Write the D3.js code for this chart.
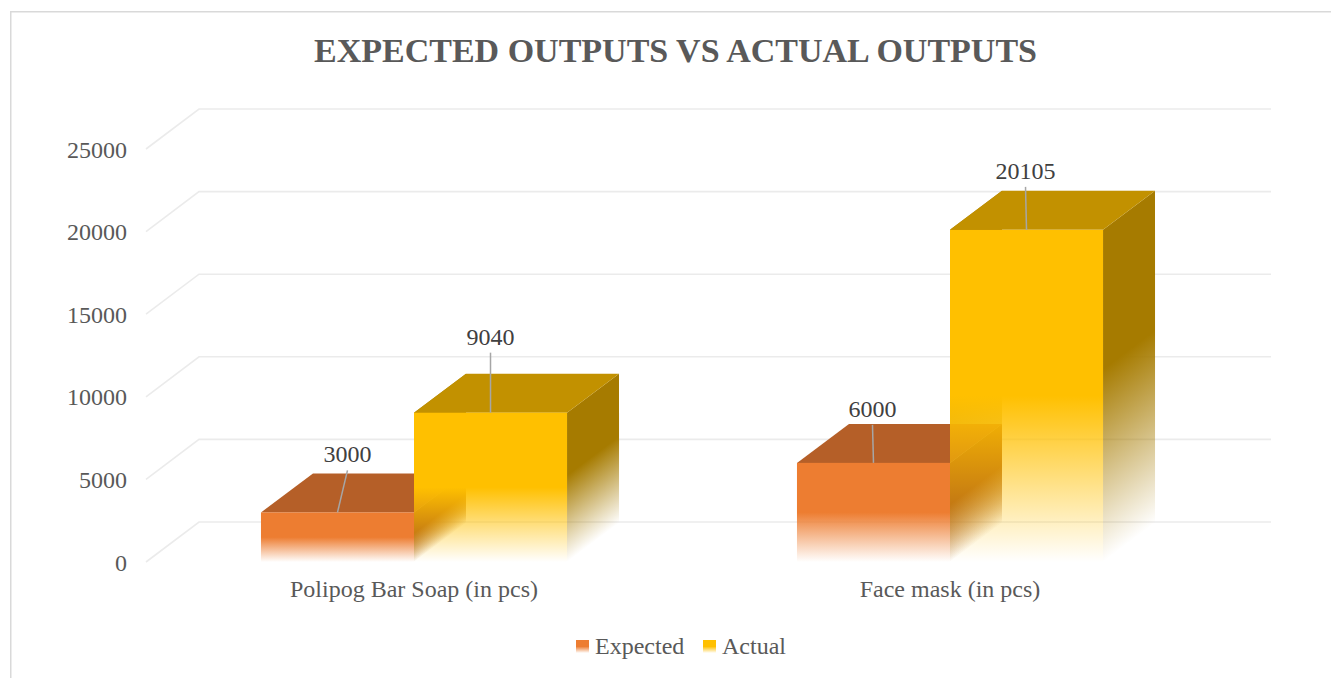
<!DOCTYPE html>
<html>
<head>
<meta charset="utf-8">
<script src="https://cdn.jsdelivr.net/npm/d3@7"></script>
<style>
  html, body { margin: 0; padding: 0; background: #ffffff; }
  svg { display: block; }
  text { font-family: "Liberation Serif", "Times New Roman", serif; }
</style>
</head>
<body>
<svg id="chart" width="1331" height="678"></svg>
<script>
// ---- data ----
const categories = ["Polipog Bar Soap (in pcs)", "Face mask (in pcs)"];
const seriesNames = ["Expected", "Actual"];
const expectedValues = [3000, 6000];
const actualValues = [9040, 20105];
const yTicks = [0, 5000, 10000, 15000, 20000, 25000];
const chartTitle = "EXPECTED OUTPUTS VS ACTUAL OUTPUTS";

// label nudges (px) from the top-centre of each front face
const expectedLabelShift = [[10, -50], [-1, -46]];
const actualLabelShift = [[0, -68], [-1, -51]];

// ---- styling ----
const palette = {
  Expected: { front: "#ED7D31", top: "#B55F28", side: "#A5541D" },
  Actual:   { front: "#FFC000", top: "#C29100", side: "#A67B00" }
};
const textColor = "#595959";
const gridColor = "#ebebeb";

// ---- geometry ----
const frontLeft = 146, frontRight = 1218;
const wallShift = { dx: 53, dy: -40 };   // back wall relative to front plane
const barShift = { dx: 52, dy: -39 };    // bar depth

const svg = d3.select("#chart");
const defs = svg.append("defs");

const y = d3.scaleLinear().domain([0, 25000]).range([562, 149]);
const x0 = d3.scaleBand().domain(categories).range([frontLeft, frontRight])
  .paddingInner(0.429).paddingOuter(0.2145);
const x1 = d3.scaleBand().domain(seriesNames).range([0, x0.bandwidth()]);

// chart area border (left and top edges are inside the frame)
svg.append("path")
  .attr("d", "M10.75,700 L10.75,11.75 L1345,11.75")
  .attr("fill", "none").attr("stroke", "#d9d9d9").attr("stroke-width", 1.5);

// title
svg.append("text")
  .attr("x", 675.5).attr("y", 62)
  .attr("text-anchor", "middle")
  .attr("font-size", 34).attr("font-weight", "bold")
  .attr("fill", textColor)
  .text(chartTitle);

// gridlines: short diagonal on the side wall, then along the back wall
const grid = svg.append("g");
yTicks.forEach(t => {
  const yf = y(t);
  grid.append("path")
    .attr("d", `M${frontLeft},${yf} L${frontLeft + wallShift.dx},${yf + wallShift.dy} L1271,${yf + wallShift.dy}`)
    .attr("fill", "none").attr("stroke", gridColor).attr("stroke-width", 1.6);
});

// value axis labels
svg.append("g").selectAll("text").data(yTicks).join("text")
  .attr("x", 127).attr("y", d => y(d) + 8.5)
  .attr("text-anchor", "end")
  .attr("font-size", 24).attr("fill", textColor)
  .text(d => d);

// category labels
svg.append("g").selectAll("text").data(categories).join("text")
  .attr("x", d => x0(d) + x0.bandwidth() / 2)
  .attr("y", 597)
  .attr("text-anchor", "middle")
  .attr("font-size", 24).attr("fill", textColor)
  .text(d => d);

// front-face gradients: solid in the upper half, fading out toward the floor
seriesNames.forEach(s => {
  const g = defs.append("linearGradient").attr("id", "front-" + s)
    .attr("x1", 0).attr("y1", 0).attr("x2", 0).attr("y2", 1);
  g.append("stop").attr("offset", 0).attr("stop-color", palette[s].front).attr("stop-opacity", 1);
  g.append("stop").attr("offset", 0.5).attr("stop-color", palette[s].front).attr("stop-opacity", 1);
  g.append("stop").attr("offset", 1).attr("stop-color", palette[s].front).attr("stop-opacity", 0);
});

// gradient across a side face: fades along the diagonal of the floor edge
const dl = Math.hypot(barShift.dx, barShift.dy);
const gdir = [-barShift.dy / dl, barShift.dx / dl];
let gradCount = 0;
function sideGradient(color, xEdge, yTop, yBase) {
  const id = "side-" + (gradCount++);
  const sy = yTop + 0.42 * (yBase - yTop);
  const proj = (yBase - sy) * gdir[1];
  const g = defs.append("linearGradient").attr("id", id)
    .attr("gradientUnits", "userSpaceOnUse")
    .attr("x1", xEdge).attr("y1", sy)
    .attr("x2", xEdge + gdir[0] * proj).attr("y2", sy + gdir[1] * proj);
  g.append("stop").attr("offset", 0).attr("stop-color", color).attr("stop-opacity", 1);
  g.append("stop").attr("offset", 1).attr("stop-color", color).attr("stop-opacity", 0);
  return "url(#" + id + ")";
}

function poly(points) {
  const p = d3.path();
  points.forEach((pt, i) => i ? p.lineTo(pt[0], pt[1]) : p.moveTo(pt[0], pt[1]));
  p.closePath();
  return p.toString();
}

const bars = svg.append("g");
const labels = svg.append("g");

categories.forEach((cat, i) => {
  const items = [
    { s: "Expected", v: expectedValues[i], shift: expectedLabelShift[i] },
    { s: "Actual", v: actualValues[i], shift: actualLabelShift[i] }
  ].map(d => {
    const xl = x0(cat) + x1(d.s);
    return Object.assign(d, { xl, xr: xl + x1.bandwidth(), yt: y(d.v), yb: y(0) });
  });
  const { dx, dy } = barShift;

  // hidden left face of the second bar shows through the faded base
  items.slice(1).forEach(b => {
    bars.append("path")
      .attr("d", poly([[b.xl, b.yt], [b.xl + dx, b.yt + dy], [b.xl + dx, b.yb + dy], [b.xl, b.yb]]))
      .attr("fill", sideGradient(palette[b.s].side, b.xl, b.yt, b.yb));
  });

  items.forEach(b => {
    const c = palette[b.s];
    // right side
    bars.append("path")
      .attr("d", poly([[b.xr, b.yt], [b.xr + dx, b.yt + dy], [b.xr + dx, b.yb + dy], [b.xr, b.yb]]))
      .attr("fill", sideGradient(c.side, b.xr, b.yt, b.yb));
    // top
    bars.append("path")
      .attr("d", poly([[b.xl, b.yt], [b.xr, b.yt], [b.xr + dx, b.yt + dy], [b.xl + dx, b.yt + dy]]))
      .attr("fill", c.top);
    // front
    bars.append("rect")
      .attr("x", b.xl).attr("y", b.yt)
      .attr("width", b.xr - b.xl).attr("height", b.yb - b.yt)
      .attr("fill", "url(#front-" + b.s + ")");

    // value label with leader line
    const cx = (b.xl + b.xr) / 2;
    const lx = cx + b.shift[0], ly = b.yt + b.shift[1];
    labels.append("line")
      .attr("x1", cx).attr("y1", b.yt)
      .attr("x2", lx).attr("y2", ly + 8)
      .attr("stroke", "#a6a6a6").attr("stroke-width", 1.5);
    labels.append("text")
      .attr("x", lx).attr("y", ly)
      .attr("text-anchor", "middle")
      .attr("font-size", 24).attr("fill", "#404040")
      .text(b.v);
  });
});

// legend
const legend = svg.append("g");
const legendPos = [{ s: "Expected", x: 576 }, { s: "Actual", x: 703 }];
legendPos.forEach(d => {
  legend.append("rect")
    .attr("x", d.x).attr("y", 640).attr("width", 13).attr("height", 13)
    .attr("fill", "url(#front-" + d.s + ")");
  legend.append("text")
    .attr("x", d.x + 19).attr("y", 654)
    .attr("font-size", 24).attr("fill", textColor)
    .text(d.s);
});
</script>
</body>
</html>
